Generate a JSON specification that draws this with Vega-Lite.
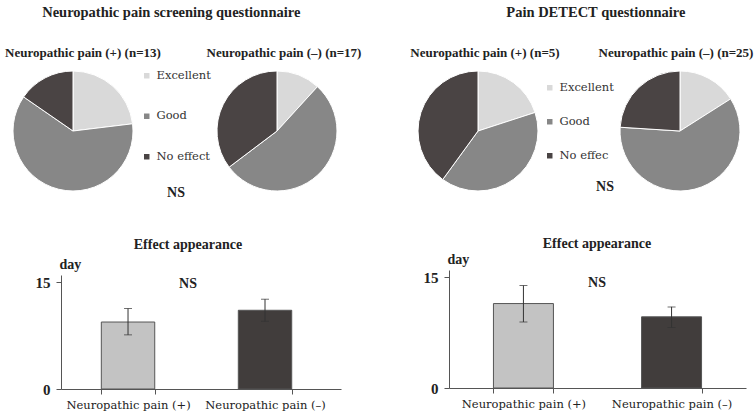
{
  "$schema": "https://vega.github.io/schema/vega-lite/v6.json",
  "background": "white",
  "padding": {"left": 5, "top": 4, "right": 2, "bottom": 2},
  "config": {
    "view": {"stroke": null},
    "font": "Liberation Serif",
    "title": {"font": "Liberation Serif", "subtitleFont": "Liberation Serif", "color": "#222"}
  },
  "datasets": {
    "pies": [
      {"pie": "p1", "response": "Excellent", "k": 1, "n": 3},
      {"pie": "p1", "response": "Good", "k": 2, "n": 8},
      {"pie": "p1", "response": "No effect", "k": 3, "n": 2},
      {"pie": "p2", "response": "Excellent", "k": 1, "n": 2},
      {"pie": "p2", "response": "Good", "k": 2, "n": 9},
      {"pie": "p2", "response": "No effect", "k": 3, "n": 6},
      {"pie": "p3", "response": "Excellent", "k": 1, "n": 1},
      {"pie": "p3", "response": "Good", "k": 2, "n": 2},
      {"pie": "p3", "response": "No effect", "k": 3, "n": 2},
      {"pie": "p4", "response": "Excellent", "k": 1, "n": 4},
      {"pie": "p4", "response": "Good", "k": 2, "n": 15},
      {"pie": "p4", "response": "No effect", "k": 3, "n": 6}
    ],
    "bars": [
      {"chart": "A", "group": "Neuropathic pain (+)", "mean": 9.4, "lo": 7.6, "hi": 11.3},
      {"chart": "A", "group": "Neuropathic pain (–)", "mean": 11.05, "lo": 9.5, "hi": 12.6},
      {"chart": "B", "group": "Neuropathic pain (+)", "mean": 11.45, "lo": 8.95, "hi": 13.9},
      {"chart": "B", "group": "Neuropathic pain (–)", "mean": 9.65, "lo": 8.2, "hi": 11.0}
    ]
  },
  "resolve": {"legend": {"color": "independent"}, "scale": {"color": "independent"}},
  "spacing": 48,
  "hconcat": [
    {
      "resolve": {"legend": {"color": "independent"}, "scale": {"color": "independent"}},
      "spacing": 38,
      "vconcat": [
        {
          "title": {"text": "Neuropathic pain screening questionnaire", "fontSize": 14.5, "fontWeight": "bold", "offset": 27, "anchor": "middle", "dx": -12},
          "resolve": {"legend": {"color": "independent"}, "scale": {"color": "independent"}},
          "spacing": -5,
          "hconcat": [
            {
              "title": {"text": "Neuropathic pain (+) (n=13)", "fontSize": 13, "fontWeight": "bold", "offset": 9, "dx": 10, "frame": "group"},
              "width": 120, "height": 120,
              "data": {"name": "pies"},
              "transform": [{"filter": "datum.pie == 'p1'"}],
              "mark": {"type": "arc", "stroke": "white", "strokeWidth": 1},
              "encoding": {
                "theta": {"field": "n", "type": "quantitative", "stack": true},
                "order": {"field": "k", "type": "quantitative"},
                "color": {
                  "field": "response", "type": "nominal",
                  "scale": {"domain": ["Excellent", "Good", "No effect"], "range": ["#d9d9d9", "#878787", "#4a4444"]},
                  "legend": {"title": "NS", "titleOrient": "bottom", "titleAnchor": "middle", "titleFont": "Liberation Serif", "titleFontSize": 14, "titleFontWeight": "bold", "titleColor": "#222", "titlePadding": 24, "orient": "none", "legendX": 128, "legendY": -1, "symbolType": "square", "symbolSize": 30, "symbolStrokeWidth": 0, "labelFont": "DejaVu Serif", "labelFontSize": 11.5, "labelColor": "#333", "rowPadding": 27.5, "labelOffset": 4}
                }
              }
            },
            {
              "title": {"text": "Neuropathic pain (–) (n=17)", "fontSize": 13, "fontWeight": "bold", "offset": 9, "dx": 7, "frame": "group"},
              "width": 120, "height": 120,
              "data": {"name": "pies"},
              "transform": [{"filter": "datum.pie == 'p2'"}],
              "mark": {"type": "arc", "stroke": "white", "strokeWidth": 1},
              "encoding": {
                "theta": {"field": "n", "type": "quantitative", "stack": true},
                "order": {"field": "k", "type": "quantitative"},
                "color": {
                  "field": "response", "type": "nominal",
                  "scale": {"domain": ["Excellent", "Good", "No effect"], "range": ["#d9d9d9", "#878787", "#4a4444"]},
                  "legend": null
                }
              }
            }
          ]
        },
        {
          "title": {"text": "Effect appearance", "subtitle": "NS", "fontSize": 14, "fontWeight": "bold", "subtitleFontSize": 14, "subtitleFontWeight": "bold", "subtitleColor": "#222", "subtitlePadding": 25, "offset": -34, "frame": "group", "dx": 11},
          "width": 328, "height": 114,
          "data": {"name": "bars"},
          "transform": [{"filter": "datum.chart == 'A'"}],
          "encoding": {
            "x": {"field": "group", "type": "nominal", "sort": null,
              "scale": {"range": [48, 328], "paddingInner": 0.61, "paddingOuter": 0.327, "align": 0.45},
              "axis": {"title": null, "labelAngle": 0, "labelFont": "DejaVu Serif", "labelFontSize": 11.5, "labelColor": "#222", "labelPadding": 5, "tickBand": "extent", "domainColor": "#555", "tickColor": "#555", "tickSize": 5}}
          },
          "layer": [
            {
              "mark": {"type": "bar", "stroke": "#555", "strokeWidth": 1},
              "encoding": {
                "y": {"field": "mean", "type": "quantitative", "title": "day",
                  "scale": {"domain": [0, 15]},
                  "axis": {"values": [0, 15], "offset": -48, "grid": false, "labelFlush": false, "titleAngle": 0, "titleAlign": "left", "titleBaseline": "alphabetic", "titleX": -2, "titleY": -7, "titleFont": "Liberation Serif", "titleFontSize": 14, "titleFontWeight": "bold", "titleColor": "#222", "labelFont": "Liberation Serif", "labelFontSize": 15, "labelFontWeight": "bold", "labelColor": "#222", "labelPadding": 6, "domainColor": "#555", "tickColor": "#555", "tickSize": 5}},
                "color": {"field": "group", "type": "nominal", "scale": {"domain": ["Neuropathic pain (+)", "Neuropathic pain (–)"], "range": ["#c3c3c3", "#413d3c"]}, "legend": null}
              }
            },
            {
              "mark": {"type": "errorbar", "ticks": {"size": 8}, "color": "#333", "thickness": 1},
              "encoding": {
                "y": {"field": "lo", "type": "quantitative", "title": "day"},
                "y2": {"field": "hi"}
              }
            }
          ]
        }
      ]
    },
    {
      "resolve": {"legend": {"color": "independent"}, "scale": {"color": "independent"}},
      "spacing": 43,
      "vconcat": [
        {
          "title": {"text": "Pain DETECT questionnaire", "fontSize": 14.5, "fontWeight": "bold", "offset": 27, "anchor": "middle", "dx": 14},
          "resolve": {"legend": {"color": "independent"}, "scale": {"color": "independent"}},
          "spacing": -16,
          "hconcat": [
            {
              "title": {"text": "Neuropathic pain (+) (n=5)", "fontSize": 13, "fontWeight": "bold", "offset": 9, "dx": 7, "frame": "group"},
              "width": 120, "height": 120,
              "data": {"name": "pies"},
              "transform": [{"filter": "datum.pie == 'p3'"}],
              "mark": {"type": "arc", "stroke": "white", "strokeWidth": 1},
              "encoding": {
                "theta": {"field": "n", "type": "quantitative", "stack": true},
                "order": {"field": "k", "type": "quantitative"},
                "color": {
                  "field": "response", "type": "nominal",
                  "scale": {"domain": ["Excellent", "Good", "No effect"], "range": ["#d9d9d9", "#878787", "#4a4444"]},
                  "legend": {"title": "NS", "titleOrient": "bottom", "titleAnchor": "end", "titleFont": "Liberation Serif", "titleFontSize": 14, "titleFontWeight": "bold", "titleColor": "#222", "titlePadding": 19, "orient": "none", "legendX": 126, "legendY": 11, "symbolType": "square", "symbolSize": 30, "symbolStrokeWidth": 0, "labelFont": "DejaVu Serif", "labelFontSize": 11.5, "labelColor": "#333", "rowPadding": 21, "labelOffset": 4, "labelExpr": "datum.label == 'No effect' ? 'No effec' : datum.label"}
                }
              }
            },
            {
              "title": {"text": "Neuropathic pain (–) (n=25)", "fontSize": 13, "fontWeight": "bold", "offset": 9, "dx": -4, "frame": "group"},
              "width": 120, "height": 120,
              "data": {"name": "pies"},
              "transform": [{"filter": "datum.pie == 'p4'"}],
              "mark": {"type": "arc", "stroke": "white", "strokeWidth": 1},
              "encoding": {
                "theta": {"field": "n", "type": "quantitative", "stack": true},
                "order": {"field": "k", "type": "quantitative"},
                "color": {
                  "field": "response", "type": "nominal",
                  "scale": {"domain": ["Excellent", "Good", "No effect"], "range": ["#d9d9d9", "#878787", "#4a4444"]},
                  "legend": null
                }
              }
            }
          ]
        },
        {
          "title": {"text": "Effect appearance", "subtitle": "NS", "fontSize": 14, "fontWeight": "bold", "subtitleFontSize": 14, "subtitleFontWeight": "bold", "subtitleColor": "#222", "subtitlePadding": 25, "offset": -38, "frame": "group", "dx": 15},
          "width": 328, "height": 118,
          "data": {"name": "bars"},
          "transform": [{"filter": "datum.chart == 'B'"}],
          "encoding": {
            "x": {"field": "group", "type": "nominal", "sort": null,
              "scale": {"range": [31, 328], "paddingInner": 0.595, "paddingOuter": 0.3, "align": 0.5},
              "axis": {"title": null, "labelAngle": 0, "labelFont": "DejaVu Serif", "labelFontSize": 11.5, "labelColor": "#222", "labelPadding": 5, "tickBand": "extent", "domainColor": "#555", "tickColor": "#555", "tickSize": 5}}
          },
          "layer": [
            {
              "mark": {"type": "bar", "stroke": "#555", "strokeWidth": 1},
              "encoding": {
                "y": {"field": "mean", "type": "quantitative", "title": "day",
                  "scale": {"domain": [0, 15]},
                  "axis": {"values": [0, 15], "offset": -31, "grid": false, "labelFlush": false, "titleAngle": 0, "titleAlign": "left", "titleBaseline": "alphabetic", "titleX": -2, "titleY": -7, "titleFont": "Liberation Serif", "titleFontSize": 14, "titleFontWeight": "bold", "titleColor": "#222", "labelFont": "Liberation Serif", "labelFontSize": 15, "labelFontWeight": "bold", "labelColor": "#222", "labelPadding": 6, "domainColor": "#555", "tickColor": "#555", "tickSize": 5}},
                "color": {"field": "group", "type": "nominal", "scale": {"domain": ["Neuropathic pain (+)", "Neuropathic pain (–)"], "range": ["#c3c3c3", "#413d3c"]}, "legend": null}
              }
            },
            {
              "mark": {"type": "errorbar", "ticks": {"size": 8}, "color": "#333", "thickness": 1},
              "encoding": {
                "y": {"field": "lo", "type": "quantitative", "title": "day"},
                "y2": {"field": "hi"}
              }
            }
          ]
        }
      ]
    }
  ]
}
